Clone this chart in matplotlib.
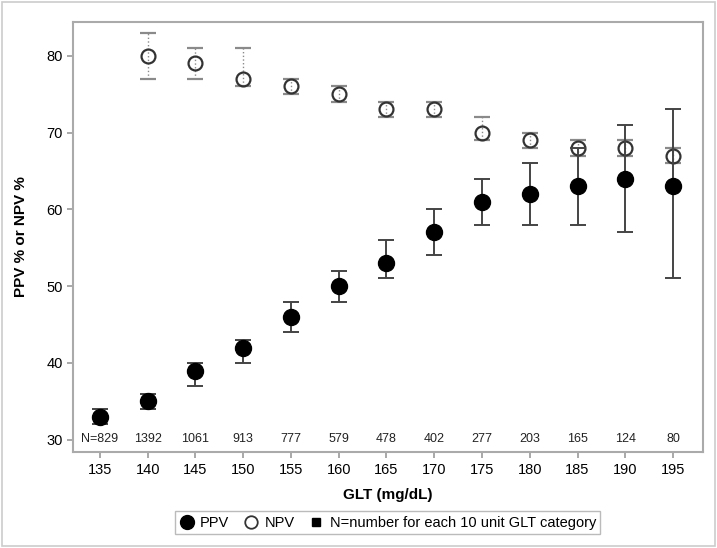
import matplotlib
matplotlib.use("Agg")
import matplotlib.pyplot as plt
from matplotlib.lines import Line2D
from matplotlib.patches import Rectangle

plt.rcParams["font.family"] = ["Liberation Sans", "DejaVu Sans"]

# GLT categories (mg/dL)
glt = [135, 140, 145, 150, 155, 160, 165, 170, 175, 180, 185, 190, 195]
n_counts = [829, 1392, 1061, 913, 777, 579, 478, 402, 277, 203, 165, 124, 80]

# PPV with lower / upper CI
ppv = [33, 35, 39, 42, 46, 50, 53, 57, 61, 62, 63, 64, 63]
ppv_lo = [32, 34, 37, 40, 44, 48, 51, 54, 58, 58, 58, 57, 51]
ppv_hi = [34, 36, 40, 43, 48, 52, 56, 60, 64, 66, 68, 71, 73]

# NPV (no value for 135)
npv_glt = [140, 145, 150, 155, 160, 165, 170, 175, 180, 185, 190, 195]
npv = [80, 79, 77, 76, 75, 73, 73, 70, 69, 68, 68, 67]
npv_lo = [77, 77, 76, 75, 74, 72, 72, 69, 68, 67, 67, 66]
npv_hi = [83, 81, 81, 77, 76, 74, 74, 72, 70, 69, 69, 68]

fig = plt.figure(figsize=(7.17, 5.48), dpi=100)
ax = fig.add_axes([0.102, 0.175, 0.878, 0.785])

# NPV: open circles, dotted grey whiskers
npv_err = [[v - lo for v, lo in zip(npv, npv_lo)], [hi - v for v, hi in zip(npv, npv_hi)]]
eb = ax.errorbar(npv_glt, npv, yerr=npv_err, fmt="o", ms=10, mfc="none", mec="#333333",
                 mew=1.6, ecolor="#8a8a8a", elinewidth=1.0, capsize=6, capthick=1.3, zorder=2)
eb[2][0].set_linestyle(":")

# PPV: filled circles, solid whiskers
ppv_err = [[v - lo for v, lo in zip(ppv, ppv_lo)], [hi - v for v, hi in zip(ppv, ppv_hi)]]
ax.errorbar(glt, ppv, yerr=ppv_err, fmt="o", ms=11.5, mfc="black", mec="black",
            ecolor="#444444", elinewidth=1.4, capsize=5.5, capthick=1.4, zorder=3)

# sample size labels along the bottom
for x, n in zip(glt, n_counts):
    label = f"N={n}" if x == glt[0] else str(n)
    ax.text(x, 30.1, label, ha="center", va="center", fontsize=9, color="#222222")

ax.set_xlim(132.2, 198.1)
ax.set_ylim(28.4, 84.4)
ax.set_xticks(glt)
ax.set_yticks([30, 40, 50, 60, 70, 80])
ax.tick_params(axis="both", labelsize=10.5, color="#999999", length=4, width=1.2)
for spine in ax.spines.values():
    spine.set_color("#aaaaaa")
    spine.set_linewidth(1.5)

ax.set_xlabel("GLT (mg/dL)", fontsize=11, fontweight="bold", labelpad=8)
ax.set_ylabel("PPV % or NPV %", fontsize=11, fontweight="bold", labelpad=13)

handles = [
    Line2D([], [], marker="o", ls="none", ms=10, mfc="black", mec="black"),
    Line2D([], [], marker="o", ls="none", ms=9, mfc="none", mec="#333333", mew=1.3),
    Line2D([], [], marker="s", ls="none", ms=6, mfc="black", mec="black"),
]
leg = fig.legend(handles, ["PPV", "NPV", "N=number for each 10 unit GLT category"],
                 loc="center", bbox_to_anchor=(0.541, 0.046), ncol=3, fontsize=10.5,
                 frameon=True, fancybox=False, handlelength=1.0, handletextpad=0.4,
                 columnspacing=1.0, borderpad=0.3)
leg.get_frame().set_edgecolor("#aaaaaa")
leg.get_frame().set_linewidth(1.0)

# light outer border around the whole graphic
fig.patches.append(Rectangle((0.003, 0.003), 0.994, 0.994, transform=fig.transFigure,
                             fill=False, edgecolor="#cccccc", linewidth=1.2))

fig.savefig("out.png", dpi=100)
